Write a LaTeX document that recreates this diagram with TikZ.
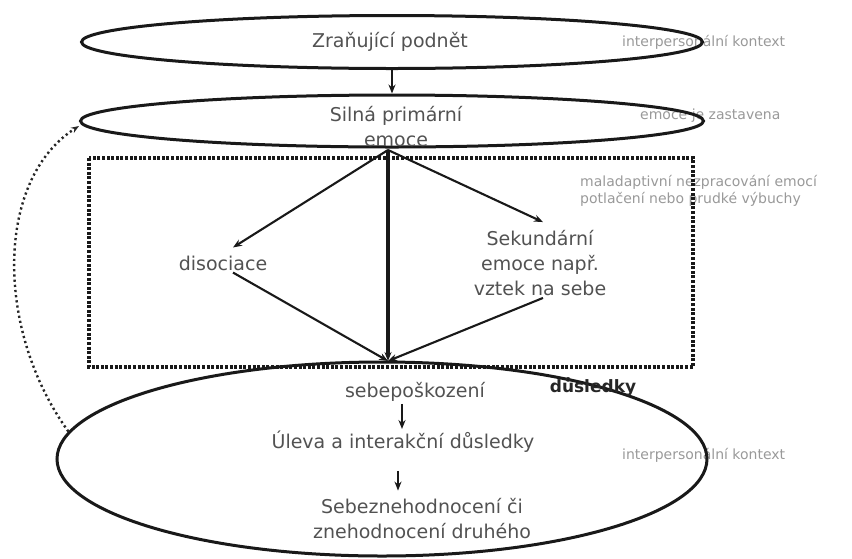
\documentclass[tikz,border=0pt]{standalone}
\usepackage{fontspec}
\setmainfont{DejaVu Sans}
\usetikzlibrary{arrows.meta,shapes.geometric}
\begin{document}
\begin{tikzpicture}[x=1pt,y=-1pt,
 oval/.style={ellipse, draw=black!90, line width=3pt, inner sep=0pt},
 lbl/.style={font=\fontsize{19}{25}\selectfont, text=black!68, align=center, inner sep=2pt},
 note/.style={font=\fontsize{14}{17}\selectfont, text=black!40, align=left, inner sep=0pt},
 arr/.style={-{Stealth[length=9pt,width=7pt]}, line width=2.1pt, draw=black!90},
 dotbox/.style={draw=black!90, line width=3.4pt, dash pattern=on 3pt off 1.6pt},
 dotcurve/.style={draw=black!85, line width=2.4pt, dash pattern=on 2.2pt off 3pt, -{Stealth[length=8pt,width=6pt]}},
]
\useasboundingbox (0,0) rectangle (852,558);

% side notes (drawn first, the ovals pass over them)
\node[note, anchor=west] (ctx1) at (622,42) {interpersonální kontext};
\node[note, anchor=west] (ctx2) at (640,116) {emoce je zastavena};
\node[note, anchor=west] (ctx3) at (580,191) {maladaptivní nezpracování emocí\\potlačení nebo prudké výbuchy};
\node[note, anchor=west] (ctx4) at (622,455) {interpersonální kontext};

% ovals
\node[oval, minimum width=621pt, minimum height=53pt] (e1) at (392,42) {};
\node[oval, minimum width=623pt, minimum height=52pt] (e2) at (392,121) {};
\node[oval, minimum width=650pt, minimum height=194pt] (e3) at (382,459) {};

% dotted box
\draw[dotbox] (89,158) rectangle (693,367);

% texts
\node[lbl] (t1) at (390,42) {Zraňující podnět};
\node[lbl] (t2) at (396,127) {Silná primární\\emoce};
\node[lbl] (dis) at (223,263) {disociace};
\node[lbl] (sek) at (540,263) {Sekundární\\emoce např.\\vztek na sebe};
\node[lbl] (sebe) at (415,392) {sebepoškození};
\node[lbl, font=\fontsize{17}{21}\selectfont\bfseries, text=black!85] (dus) at (593,387) {důsledky};
\node[lbl] (ulev) at (403,442) {Úleva a interakční důsledky};
\node[lbl] (seb2) at (422,519) {Sebeznehodnocení či\\znehodnocení druhého};

\coordinate (src) at (388,150);
\coordinate (sink) at (388,361);

% connectors
\draw[arr] (e1.south) -- (e2.north);
\draw[arr, line width=3.6pt] (src) -- (sink);
\draw[arr] (src) -- ([xshift=10pt,yshift=6pt]dis.north);
\draw[arr] (src) -- ([xshift=3pt,yshift=6pt]sek.north);
\draw[arr] ([xshift=10pt]dis.south) -- (sink);
\draw[arr] ([xshift=3pt]sek.south) -- (sink);
\draw[arr] ([xshift=-13pt]sebe.south) -- ([xshift=-1pt]ulev.north);
\draw[arr, shorten <=16pt, shorten >=6pt] ([xshift=-5pt]ulev.south) -- ([xshift=-24pt]seb2.north);
\draw[dotcurve] (e3.175) .. controls (-5,330) and (-5,180) .. ([yshift=-5pt]e2.west);
\end{tikzpicture}
\end{document}
